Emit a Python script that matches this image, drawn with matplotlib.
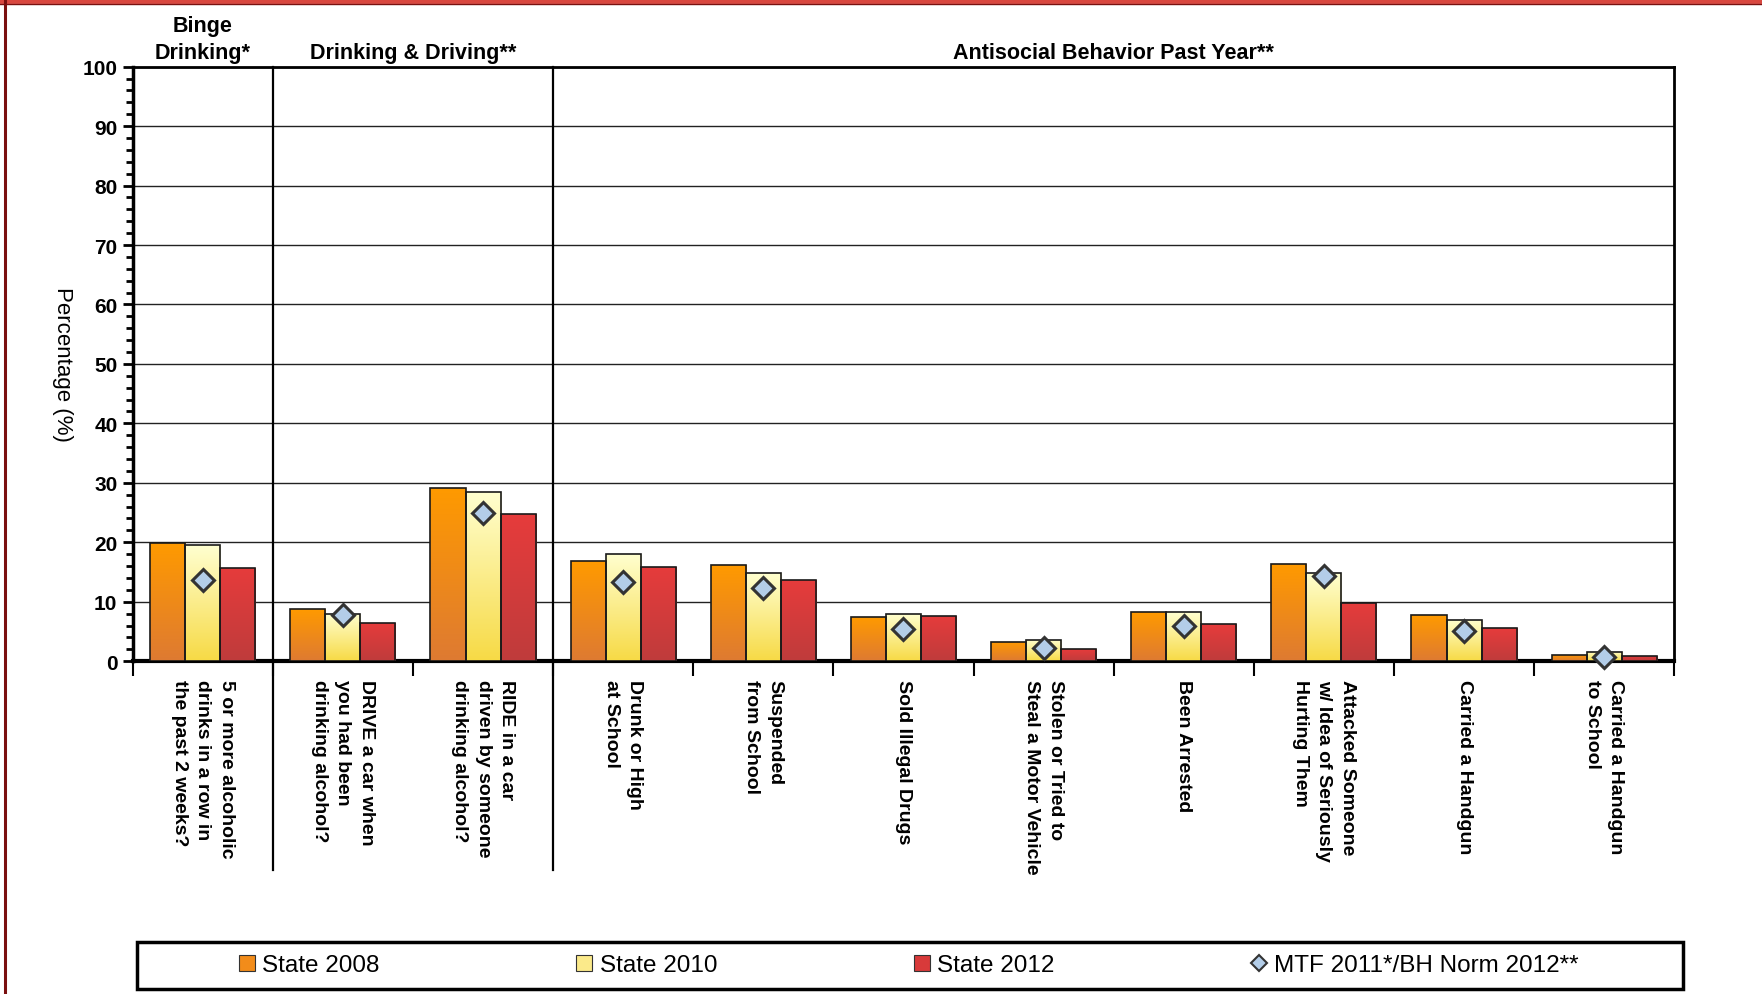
import numpy as np
import matplotlib
matplotlib.use('Agg')
import matplotlib.pyplot as plt
from matplotlib.colors import LinearSegmentedColormap
from matplotlib.patches import Rectangle, Patch
from matplotlib.lines import Line2D

plt.rcParams['font.family'] = ['Liberation Sans', 'DejaVu Sans']

# data
categories = [
    '5 or more alcoholic\ndrinks in a row in\nthe past 2 weeks?',
    'DRIVE a car when\nyou had been\ndrinking alcohol?',
    'RIDE in a car\ndriven by someone\ndrinking alcohol?',
    'Drunk or High\nat School',
    'Suspended\nfrom School',
    'Sold Illegal Drugs',
    'Stolen or Tried to\nSteal a Motor Vehicle',
    'Been Arrested',
    'Attacked Someone\nw/ Idea of Seriously\nHurting Them',
    'Carried a Handgun',
    'Carried a Handgun\nto School',
]
state_2008 = [19.8, 8.7, 29.2, 16.8, 16.1, 7.4, 3.3, 8.2, 16.3, 7.7, 1.1]
state_2010 = [19.5, 8.0, 28.5, 18.0, 14.9, 8.0, 3.6, 8.2, 14.8, 7.0, 1.6]
state_2012 = [15.7, 6.5, 24.7, 15.9, 13.6, 7.6, 2.0, 6.2, 9.8, 5.5, 0.9]
norm = [13.6, 7.7, 25.0, 13.3, 12.3, 5.4, 2.2, 6.0, 14.4, 5.0, 0.7]

groups = ['Binge\nDrinking*', 'Drinking & Driving**', 'Antisocial Behavior Past Year**']
group_sizes = [1, 2, 8]
series_names = ['State 2008', 'State 2010', 'State 2012', 'MTF 2011*/BH Norm 2012**']

# (bottom colour, top colour) of each bar gradient
grads = [('#DE7A32', '#FF9A00'), ('#F7DA45', '#FFFFD0'), ('#BF3B3B', '#E63C3C')]
solid = ['#F28C1A', '#FBEA8A', '#D83A3A']

fig = plt.figure(figsize=(17.62, 9.95), dpi=100)
ax = fig.add_axes([0.0753, 0.3345, 0.8749, 0.5975])

x = np.arange(len(categories)) + 0.5
w = 0.25
grad_img = np.linspace(0, 1, 256).reshape(-1, 1)

for k, vals in enumerate([state_2008, state_2010, state_2012]):
    bars = ax.bar(x + (k - 1) * w, vals, width=w, facecolor='none',
                  edgecolor='#1a1a1a', linewidth=1.2, zorder=4)
    cmap = LinearSegmentedColormap.from_list('g%d' % k, grads[k])
    for b in bars:
        x0, y0 = b.get_x(), b.get_y()
        im = ax.imshow(grad_img, cmap=cmap, origin='lower', aspect='auto',
                       extent=[x0, x0 + b.get_width(), y0, y0 + b.get_height()],
                       zorder=3, interpolation='bilinear')
        im.set_clip_path(b)

ax.plot(x, norm, linestyle='none', marker='D', markersize=11,
        markerfacecolor='#B3CDE8', markeredgecolor='#333333',
        markeredgewidth=2.2, zorder=6, clip_on=False)

ax.set_xlim(0, len(categories))
ax.set_ylim(0, 100)
ax.set_yticks(np.arange(0, 101, 10))
ax.set_yticks(np.arange(0, 101, 2), minor=True)
ax.yaxis.grid(True, which='major', color='#222222', linewidth=1.0)
ax.set_axisbelow(True)
ax.tick_params(axis='y', which='major', direction='out', length=7, width=2,
               labelsize=15, pad=4)
ax.tick_params(axis='y', which='minor', direction='out', length=5, width=2)
for t in ax.get_yticklabels():
    t.set_fontweight('bold')

ax.set_xticks(np.arange(0, len(categories) + 1))
ax.set_xticklabels([])
ax.tick_params(axis='x', direction='out', length=11, width=1.5)

ax.spines['left'].set_linewidth(2.5)
ax.spines['bottom'].set_linewidth(3)
ax.spines['top'].set_linewidth(2)
ax.spines['right'].set_linewidth(2)

ax.set_ylabel('Percentage (%)', fontsize=16, rotation=270, labelpad=22, va='bottom')

trans = ax.get_xaxis_transform()
for xi, lab in zip(x, categories):
    ax.text(xi, -0.03, lab, transform=trans, rotation=270, ha='center', va='top',
            fontsize=14, fontweight='bold', multialignment='left', linespacing=1.5)

edges = np.cumsum(group_sizes)
starts = np.concatenate([[0], edges[:-1]])
for e in edges[:-1]:
    ax.plot([e, e], [1, -0.352], transform=trans, color='black', lw=1.6, clip_on=False)
for s, e, g in zip(starts, edges, groups):
    ax.text((s + e) / 2, 1.006, g, transform=trans, ha='center', va='bottom',
            fontsize=15.5, fontweight='bold', linespacing=1.4)

handles = [Patch(facecolor=solid[k], edgecolor='#333333', linewidth=0.8) for k in range(3)]
handles.append(Line2D([], [], linestyle='none', marker='D', markersize=8,
                      markerfacecolor='#B3CDE8', markeredgecolor='#333333',
                      markeredgewidth=1.5))
fig.legend(handles, series_names, ncol=4, mode='expand', loc='center',
           bbox_to_anchor=(0.1358, 0.0288, 0.896 - 0.1358, 0.0),
           frameon=False, fontsize=17.5, handlelength=0.65, handleheight=0.65,
           handletextpad=0.3, borderaxespad=0, borderpad=0)
fig.add_artist(Rectangle((0.0778, 0.0055), 0.9554 - 0.0778, 0.047,
                         transform=fig.transFigure, fill=False,
                         edgecolor='black', linewidth=2.5))

# page border remnants
fig.add_artist(Line2D([0, 1], [0.9975, 0.9975], transform=fig.transFigure,
                      color='#D9473F', linewidth=3.5))
fig.add_artist(Line2D([0, 1], [0.9948, 0.9948], transform=fig.transFigure,
                      color='#7A1010', linewidth=1))
fig.add_artist(Line2D([0.0026, 0.0026], [0, 1], transform=fig.transFigure,
                      color='#7A1010', linewidth=2.2))

fig.savefig('out.png', dpi=100)
